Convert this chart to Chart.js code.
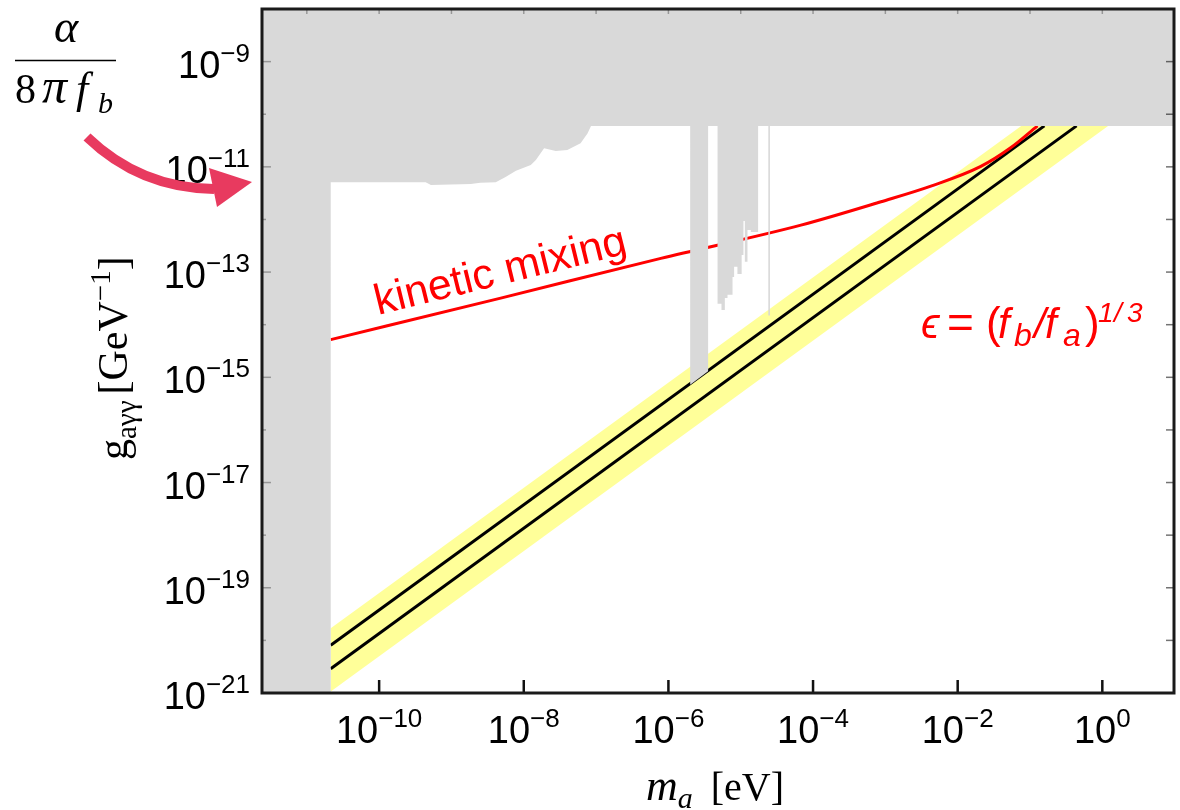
<!DOCTYPE html>
<html lang="en">
<head>
  <meta charset="UTF-8">
  <title>Axion-photon coupling</title>
  <script src="https://cdn.jsdelivr.net/npm/chart.js"></script>
  <style>
    html, body { margin: 0; padding: 0; background: #fff; }
    #wrap { position: relative; width: 1180px; height: 810px; }
  </style>
</head>
<body>
  <div id="wrap"><canvas id="plot"></canvas></div>

  <script>
    // axis ranges (m_a in eV, g in GeV^-1)
    const X_MIN = 2.4e-12, X_MAX = 9.8;
    const Y_MIN = 1e-21, Y_MAX = 1e-8;

    const xTickVals = [1e-10, 1e-8, 1e-6, 1e-4, 1e-2, 1];
    const xTickExps = ['−10', '−8', '−6', '−4', '−2', '0'];
    const yTickVals = [1e-9, 1e-11, 1e-13, 1e-15, 1e-17, 1e-19, 1e-21];
    const yTickExps = ['−9', '−11', '−13', '−15', '−17', '−19', '−21'];

    // excluded (gray) region: lower edge, left to right
    const ceilG = 6e-11;
    const edgeM = [2.4e-12, 2.14e-11, 2.14e-11, 4.4e-10, 5.2e-10, 1.85e-9, 2.5e-9, 4.1e-9, 5.6e-9,
                   7.8e-9, 1.25e-8, 1.47e-8, 1.91e-8, 2.77e-8, 4.0e-8, 6.1e-8, 7.6e-8, 8.5e-8];
    const edgeG = [1e-21, 1e-21, 5.1e-12, 5.1e-12, 4.5e-12, 4.7e-12, 5.0e-12, 5.1e-12, 6.4e-12,
                   8.4e-12, 1.08e-11, 1.35e-11, 2.25e-11, 2.0e-11, 2.1e-11, 2.8e-11, 4.3e-11, 6e-11];
    const slotM = [2.0e-6, 3.54e-6];
    const slotG = [7.2e-16, 1.3e-15];
    const stepM = [4.78e-6, 5.42e-6, 6.03e-6, 6.56e-6, 7.7e-6, 8.1e-6, 9.0e-6,
                   1.03e-5, 1.09e-5, 1.14e-5, 1.24e-5, 1.38e-5, 1.74e-5];
    const stepG = [2.5e-14, 1.9e-14, 3.2e-14, 3.7e-14, 8.1e-14, 1.26e-13,
                   9.2e-14, 2.1e-13, 9.3e-13, 1.57e-13, 6.3e-13, 5.8e-13];
    const hairM = [2.47e-5, 2.47e-5];
    const hairG = [6e-11, 1.5e-14];

    // kinetic mixing curve
    const kmM = [2.14e-11, 4.8e-9, 7.85e-7, 6.8e-5, 8.7e-4, 4.26e-3, 2.09e-2, 5.4e-2, 0.127];
    const kmG = [5.2e-15, 3.2e-14, 1.82e-13, 7.8e-13, 2.17e-12, 4.3e-12, 1.02e-11, 2.3e-11, 6e-11];

    // the two black lines and the yellow band around them
    const lineAM = [2.14e-11, 0.158], lineAG = [8.1e-21, 6e-11];
    const lineBM = [2.14e-11, 0.44],  lineBG = [2.9e-21, 6e-11];
    const bandM = [2.14e-11, 0.0755, 1.2, 2.14e-11];
    const bandG = [1.7e-20, 6e-11, 6e-11, 1.07e-21];

    const zip = (ms, gs) => ms.map((m, i) => ({x: m, y: gs[i]}));

    // closed outline of the gray area
    const grayPts = zip(edgeM, edgeG);
    grayPts.push({x: slotM[0], y: ceilG}, {x: slotM[0], y: slotG[0]},
                 {x: slotM[1], y: slotG[1]}, {x: slotM[1], y: ceilG});
    grayPts.push({x: stepM[0], y: ceilG});
    stepG.forEach((g, i) => grayPts.push({x: stepM[i], y: g}, {x: stepM[i + 1], y: g}));
    grayPts.push({x: stepM[stepM.length - 1], y: ceilG}, {x: X_MAX, y: ceilG},
                 {x: X_MAX, y: Y_MAX}, {x: X_MIN, y: Y_MAX});

    const SANS = '"Liberation Sans", "DejaVu Sans", sans-serif';
    const SERIF = '"Liberation Serif", "DejaVu Serif", serif';

    function drawPow(ctx, exp, left, base) {
      ctx.font = '38px ' + SANS;
      ctx.fillText('10', left, base);
      const w = ctx.measureText('10').width;
      ctx.font = '26px ' + SANS;
      ctx.fillText(exp, left + w, base - 16);
    }
    function powWidth(ctx, exp) {
      ctx.font = '38px ' + SANS;
      const w = ctx.measureText('10').width;
      ctx.font = '26px ' + SANS;
      return w + ctx.measureText(exp).width;
    }
    function runs(ctx, x, y, parts) {
      for (const p of parts) {
        ctx.font = p.font;
        x += p.dx || 0;
        ctx.fillText(p.t, x, y + (p.dy || 0));
        x += ctx.measureText(p.t).width;
      }
    }

    const decor = {
      id: 'decor',
      afterDraw(chart) {
        const {ctx, chartArea: a, scales: {x, y}} = chart;
        ctx.save();

        // tick marks
        ctx.lineWidth = 1.5;
        for (let e = -11; e <= 0; e++) {
          const px = x.getPixelForValue(Math.pow(10, e));
          ctx.strokeStyle = 'rgba(0,0,0,0.3)';
          ctx.beginPath(); ctx.moveTo(px, a.top); ctx.lineTo(px, a.top + 5); ctx.stroke();
        }
        for (let e = -20; e <= -9; e++) {
          const py = y.getPixelForValue(Math.pow(10, e));
          const len = (e % 2 !== 0) ? 9 : 4;
          ctx.strokeStyle = 'rgba(0,0,0,0.3)';
          ctx.beginPath(); ctx.moveTo(a.left, py); ctx.lineTo(a.left + len, py); ctx.stroke();
          ctx.strokeStyle = 'rgba(0,0,0,0.55)';
          ctx.beginPath(); ctx.moveTo(a.right, py); ctx.lineTo(a.right - 8, py); ctx.stroke();
        }
        ctx.strokeStyle = '#111';
        ctx.lineWidth = 2.5;
        xTickVals.forEach(v => {
          const px = x.getPixelForValue(v);
          ctx.beginPath(); ctx.moveTo(px, a.bottom); ctx.lineTo(px, a.bottom - 13); ctx.stroke();
        });

        // frame
        ctx.strokeStyle = '#1a1a1a';
        ctx.lineWidth = 3;
        ctx.strokeRect(a.left, a.top, a.right - a.left, a.bottom - a.top);

        // tick labels
        ctx.fillStyle = '#000';
        ctx.textBaseline = 'alphabetic';
        ctx.textAlign = 'left';
        xTickVals.forEach((v, i) => {
          const px = x.getPixelForValue(v);
          drawPow(ctx, xTickExps[i], px - powWidth(ctx, xTickExps[i]) / 2, a.bottom + 50);
        });
        yTickVals.forEach((v, i) => {
          const py = y.getPixelForValue(v);
          drawPow(ctx, yTickExps[i], 250 - powWidth(ctx, yTickExps[i]), py + 16);
        });

        // axis titles
        runs(ctx, 646, 800, [
          {t: 'm', font: 'italic 44px ' + SERIF},
          {t: 'a', font: 'italic 30px ' + SERIF, dy: 8},
          {t: '[eV]', font: '40px ' + SERIF, dx: 18}
        ]);
        ctx.save();
        ctx.translate(127, 460);
        ctx.rotate(-Math.PI / 2);
        runs(ctx, 0, 0, [
          {t: 'g', font: '42px ' + SERIF},
          {t: 'aγγ', font: '29px ' + SERIF, dy: 9},
          {t: '[GeV', font: '42px ' + SERIF, dx: 6},
          {t: '−1', font: '29px ' + SERIF, dy: -17},
          {t: ']', font: '42px ' + SERIF}
        ]);
        ctx.restore();

        // alpha / (8 pi f_b)
        ctx.textAlign = 'center';
        ctx.font = 'italic 46px ' + SERIF;
        ctx.fillText('α', 66, 42);
        ctx.textAlign = 'left';
        ctx.lineWidth = 1.6;
        ctx.strokeStyle = '#000';
        ctx.beginPath(); ctx.moveTo(15, 60.5); ctx.lineTo(116, 60.5); ctx.stroke();
        ctx.font = '42px ' + SERIF;
        ctx.fillText('8', 15, 103);
        ctx.font = 'italic 50px ' + SERIF;
        ctx.fillText('π', 42, 103);
        ctx.font = 'italic 44px ' + SERIF;
        ctx.fillText('f', 76, 103);
        ctx.font = 'italic 30px ' + SERIF;
        ctx.fillText('b', 98, 113);

        // curved arrow
        ctx.strokeStyle = '#e83a5f';
        ctx.fillStyle = '#e83a5f';
        ctx.lineWidth = 10;
        ctx.beginPath(); ctx.moveTo(87, 137); ctx.quadraticCurveTo(140, 188, 214, 189); ctx.stroke();
        ctx.beginPath(); ctx.moveTo(209, 168); ctx.lineTo(252, 182); ctx.lineTo(217, 207); ctx.closePath(); ctx.fill();

        // kinetic mixing label, along the red curve
        const p0x = x.getPixelForValue(kmM[0]), p0y = y.getPixelForValue(kmG[0]);
        const p1x = x.getPixelForValue(kmM[2]), p1y = y.getPixelForValue(kmG[2]);
        const ang = Math.atan2(p1y - p0y, p1x - p0x);
        ctx.fillStyle = '#ff0000';
        ctx.save();
        ctx.translate(378, 315);
        ctx.rotate(ang);
        ctx.font = '43px ' + SANS;
        ctx.fillText('kinetic mixing', 0, 0);
        ctx.restore();

        // epsilon label
        const it = 'italic 42px ' + SANS;
        const pieces = [
          ['ϵ', 921, 338, it], ['=', 947, 338, '46px ' + SANS], ['(', 986, 338, '44px ' + SANS],
          ['f', 998, 338, it], ['b', 1014, 346, 'italic 32px ' + SANS], ['/', 1034, 338, it],
          ['f', 1045, 338, it], ['a', 1063, 346, 'italic 32px ' + SANS], [')', 1085, 338, '44px ' + SANS],
          ['1', 1098, 322, 'italic 28px ' + SANS], ['/', 1114, 322, 'italic 28px ' + SANS],
          ['3', 1127, 322, 'italic 28px ' + SANS]
        ];
        pieces.forEach(([t, px, py, f]) => { ctx.font = f; ctx.fillText(t, px, py); });

        ctx.restore();
      }
    };

    new Chart(document.getElementById('plot'), {
      type: 'line',
      data: {
        datasets: [
          { data: grayPts, fill: 'shape', backgroundColor: '#d9d9d9',
            borderColor: 'rgba(0,0,0,0)', borderWidth: 0, pointRadius: 0 },
          { data: zip(hairM, hairG), borderColor: '#d6d6d6', borderWidth: 1.5, pointRadius: 0, fill: false },
          { data: zip(kmM, kmG), borderColor: '#ff0000', borderWidth: 3, pointRadius: 0,
            cubicInterpolationMode: 'monotone', fill: false },
          { data: zip(lineAM, lineAG), borderColor: '#000', borderWidth: 3, pointRadius: 0, fill: false },
          { data: zip(lineBM, lineBG), borderColor: '#000', borderWidth: 3, pointRadius: 0, fill: false },
          { data: zip(bandM, bandG), fill: 'shape', backgroundColor: '#ffff99',
            borderColor: 'rgba(0,0,0,0)', borderWidth: 0, pointRadius: 0 }
        ]
      },
      options: {
        responsive: true,
        maintainAspectRatio: false,
        animation: false,
        layout: { padding: { left: 262, top: 9, right: 6, bottom: 117 } },
        scales: {
          x: { type: 'logarithmic', min: X_MIN, max: X_MAX, bounds: 'data', display: false },
          y: { type: 'logarithmic', min: Y_MIN, max: Y_MAX, bounds: 'data', display: false }
        },
        plugins: {
          legend: { display: false },
          tooltip: { enabled: false }
        }
      },
      plugins: [decor]
    });
  </script>
</body>
</html>
